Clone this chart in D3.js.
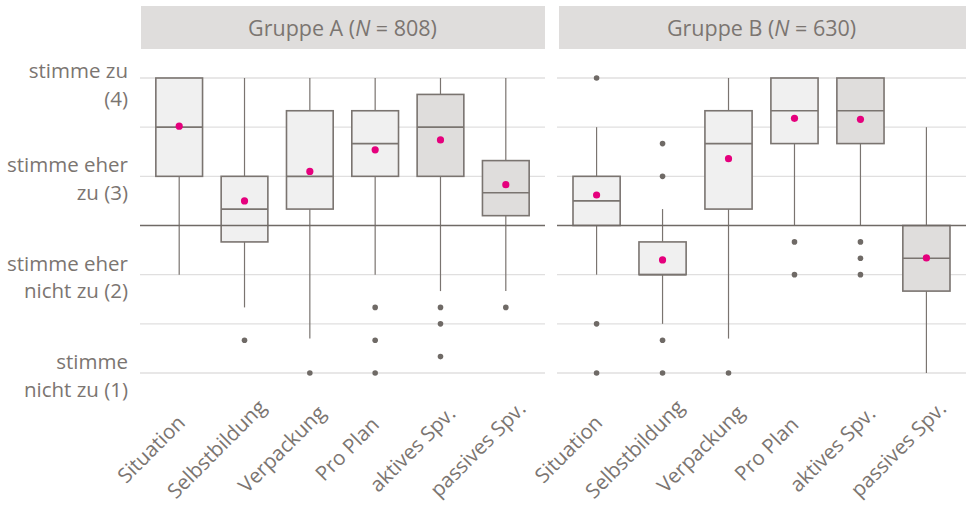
<!DOCTYPE html>
<html>
<head>
<meta charset="utf-8">
<script src="https://cdn.jsdelivr.net/npm/d3@7"></script>
<style>
  body { margin: 0; background: #fff; }
  svg text { font-family: "Open Sans", Roboto, sans-serif; fill: #7b7571; }
</style>
</head>
<body>
<svg id="chart" width="971" height="505"></svg>
<script>
// categories
var items = ["Situation", "Selbstbildung", "Verpackung", "Pro Plan", "aktives Spv.", "passives Spv."];
var groupNames = ["Gruppe A", "Gruppe B"];
var groupN = [808, 630];

// y ticks (scale 1..4)
var yTicks = [1, 2, 3, 4];
var yTickLabels = [["stimme", "nicht zu (1)"], ["stimme eher", "nicht zu (2)"], ["stimme eher", "zu (3)"], ["stimme zu", "(4)"]];
var gridValues = [1, 1.5, 2, 3, 3.5, 4];
var midValue = 2.5;

// box stats: [lower whisker, q1, median, q3, upper whisker]
var boxesA = [
  [2.0, 3.0, 3.5, 4.0, 4.0],
  [1.667, 2.333, 2.667, 3.0, 4.0],
  [1.35, 2.667, 3.0, 3.667, 4.0],
  [2.0, 3.0, 3.333, 3.667, 4.0],
  [1.833, 3.0, 3.5, 3.833, 4.0],
  [1.833, 2.6, 2.833, 3.16, 4.0]
];
var meansA = [3.51, 2.75, 3.05, 3.27, 3.37, 2.915];
var outliersA = [[], [1.333], [1.0], [1.667, 1.333, 1.0], [1.667, 1.5, 1.167], [1.667]];

var boxesB = [
  [2.0, 2.5, 2.75, 3.0, 3.5],
  [1.5, 2.0, 2.0, 2.333, 2.667],
  [1.35, 2.667, 3.333, 3.667, 4.0],
  [2.5, 3.333, 3.667, 4.0, 4.0],
  [2.5, 3.333, 3.667, 4.0, 4.0],
  [1.0, 1.833, 2.167, 2.5, 3.5]
];
var meansB = [2.81, 2.15, 3.18, 3.59, 3.58, 2.17];
var outliersB = [[4.0, 1.5, 1.0], [3.333, 3.0, 1.333, 1.0], [1.0], [2.333, 2.0], [2.333, 2.167, 2.0], []];

// which boxes get the darker fill
var darkItems = ["aktives Spv.", "passives Spv."];

var boxes = [boxesA, boxesB], means = [meansA, meansB], outliers = [outliersA, outliersB];

var svg = d3.select("#chart");

var panelX = [[140, 545], [557, 966]];
var stripTop = 6, stripBottom = 49;
var fontSize = 20.5;

var y = d3.scaleLinear().domain([1, 4]).range([373, 78]);

var col = {
  text: "#7b7571",
  strip: "#dfdddc",
  grid: "#e0dfdf",
  mid: "#6f6a66",
  stroke: "#7a7470",
  light: "#f0f0f0",
  dark: "#dfdddc",
  mean: "#e5007d",
  outlier: "#6f6a66"
};

// y axis labels, two lines each, kept inside the panel top
var yAxis = svg.append("g").attr("class", "y-labels");
yTicks.forEach(function(v, i) {
  var base = Math.max(y(v) - 4, y(4));
  var t = yAxis.append("text")
    .attr("text-anchor", "end")
    .style("font-size", fontSize + "px");
  yTickLabels[i].forEach(function(line, j) {
    t.append("tspan").attr("x", 128).attr("y", base + j * 27.5).text(line);
  });
});

groupNames.forEach(function(name, gi) {
  var x0 = panelX[gi][0], x1 = panelX[gi][1];
  var g = svg.append("g").attr("class", "panel");

  var x = d3.scalePoint().domain(items).range([x0, x1]).padding(0.6);
  var bw = x.step() * 0.715;

  // strip
  g.append("rect")
    .attr("x", x0 + (gi === 0 ? 1 : 2)).attr("y", stripTop)
    .attr("width", x1 - x0 - (gi === 0 ? 1 : 2)).attr("height", stripBottom - stripTop)
    .attr("fill", col.strip);
  var title = g.append("text")
    .attr("x", (x0 + x1) / 2).attr("y", 36)
    .attr("text-anchor", "middle")
    .style("font-size", "21.5px");
  title.append("tspan").text(name + " (");
  title.append("tspan").style("font-style", "italic").text("N");
  title.append("tspan").text(" = " + groupN[gi] + ")");

  // grid
  g.selectAll("line.grid").data(gridValues).enter().append("line")
    .attr("class", "grid")
    .attr("x1", x0).attr("x2", x1)
    .attr("y1", function(d) { return y(d); }).attr("y2", function(d) { return y(d); })
    .attr("stroke", col.grid).attr("stroke-width", 1.3);

  var data = items.map(function(it, i) {
    var b = boxes[gi][i];
    return { item: it, lo: b[0], q1: b[1], med: b[2], q3: b[3], hi: b[4], mean: means[gi][i], out: outliers[gi][i] };
  });

  var bx = g.selectAll("g.box").data(data).enter().append("g").attr("class", "box");

  // whiskers
  bx.append("line")
    .attr("x1", function(d) { return x(d.item); }).attr("x2", function(d) { return x(d.item); })
    .attr("y1", function(d) { return y(d.lo); }).attr("y2", function(d) { return y(d.q1); })
    .attr("stroke", col.stroke).attr("stroke-width", 1.2);
  bx.append("line")
    .attr("x1", function(d) { return x(d.item); }).attr("x2", function(d) { return x(d.item); })
    .attr("y1", function(d) { return y(d.q3); }).attr("y2", function(d) { return y(d.hi); })
    .attr("stroke", col.stroke).attr("stroke-width", 1.2);

  // boxes
  bx.append("rect")
    .attr("x", function(d) { return x(d.item) - bw / 2; })
    .attr("width", bw)
    .attr("y", function(d) { return y(d.q3); })
    .attr("height", function(d) { return y(d.q1) - y(d.q3); })
    .attr("fill", function(d) { return darkItems.indexOf(d.item) >= 0 ? col.dark : col.light; })
    .attr("stroke", col.stroke).attr("stroke-width", 1.6);

  // reference line at 2.5
  g.append("line")
    .attr("x1", x0).attr("x2", x1)
    .attr("y1", y(midValue)).attr("y2", y(midValue))
    .attr("stroke", col.mid).attr("stroke-width", 1.3);

  // medians
  bx.append("line")
    .attr("x1", function(d) { return x(d.item) - bw / 2; })
    .attr("x2", function(d) { return x(d.item) + bw / 2; })
    .attr("y1", function(d) { return y(d.med); }).attr("y2", function(d) { return y(d.med); })
    .attr("stroke", col.stroke).attr("stroke-width", 1.6);

  // outliers
  bx.selectAll("circle.out").data(function(d) { return d.out.map(function(v) { return { item: d.item, v: v }; }); })
    .enter().append("circle")
    .attr("class", "out")
    .attr("cx", function(d) { return x(d.item); })
    .attr("cy", function(d) { return y(d.v); })
    .attr("r", 2.8)
    .attr("fill", col.outlier);

  // means
  bx.append("circle")
    .attr("cx", function(d) { return x(d.item); })
    .attr("cy", function(d) { return y(d.mean); })
    .attr("r", 3.6)
    .attr("fill", col.mean);

  // x labels
  g.selectAll("text.xlab").data(items).enter().append("text")
    .attr("class", "xlab")
    .attr("transform", function(d) { return "translate(" + (x(d) - 28) + ",449) rotate(-45)"; })
    .attr("text-anchor", "middle")
    .attr("dy", "0.35em")
    .style("font-size", fontSize + "px")
    .text(function(d) { return d; });
});
</script>
</body>
</html>
